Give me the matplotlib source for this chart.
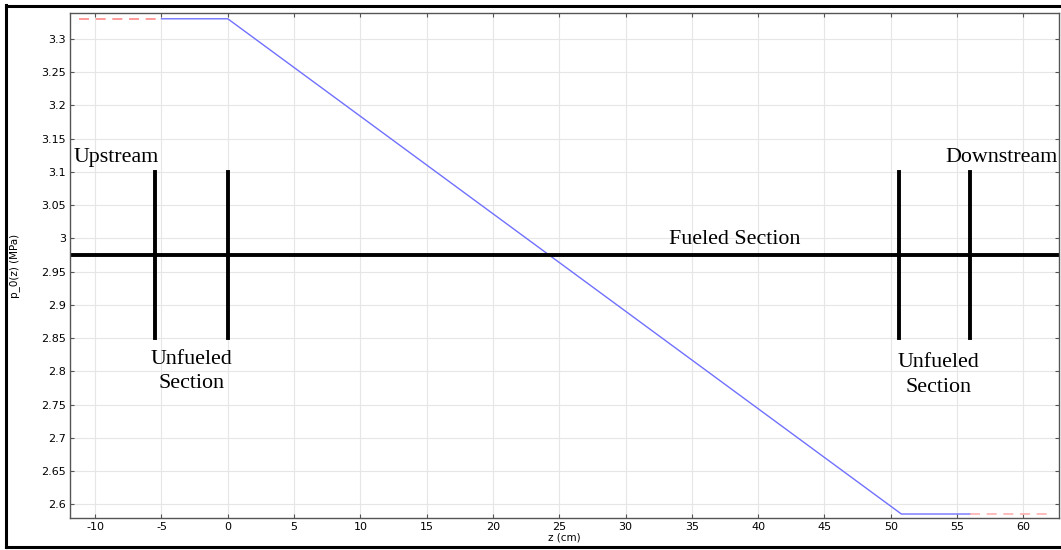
import matplotlib.pyplot as plt
from matplotlib.lines import Line2D

plt.rcParams['axes.unicode_minus'] = False

# pressure profile p_0(z)
z_up = [-11.2, -5.0]
p_up = [3.330, 3.330]
z_main = [-5.0, 0.0, 50.8, 56.0]
p_main = [3.330, 3.330, 2.5855, 2.5855]
z_down = [56.0, 62.0]
p_down = [2.5855, 2.5855]

# section markers drawn on top
marker_x = [-5.5, 0.0, 50.6, 56.0]
marker_lo = 2.85
marker_hi = 3.10
axis_level = 2.975

xticks = list(range(-10, 61, 5))
yticks = [2.6, 2.65, 2.7, 2.75, 2.8, 2.85, 2.9, 2.95, 3.0, 3.05, 3.1, 3.15, 3.2, 3.25, 3.3]
ytick_labels = ["2.6", "2.65", "2.7", "2.75", "2.8", "2.85", "2.9", "2.95", "3", "3.05",
                "3.1", "3.15", "3.2", "3.25", "3.3"]

fig = plt.figure(figsize=(10.61, 5.5), dpi=100)
ax = fig.add_axes([70 / 1061, 32 / 550, (1058.5 - 70) / 1061, (518 - 13) / 550])

ax.plot(z_up, p_up, color="#ff8a8a", lw=1.2, dashes=(6, 4))
ax.plot(z_main, p_main, color="#7070ff", lw=1.0)
ax.plot(z_down, p_down, color="#ffb0b0", lw=1.2, dashes=(6, 4))

ax.set_xlim(-11.9, 62.65)
ax.set_ylim(2.5795, 3.3387)
ax.set_xticks(xticks)
ax.set_yticks(yticks)
ax.set_yticklabels(ytick_labels)
ax.grid(True, color="#e6e6e6", lw=0.8)
ax.set_axisbelow(True)
ax.tick_params(direction="in", top=True, right=True, labelsize=8, length=3,
               color="#555555", pad=3)
for s in ax.spines.values():
    s.set_color("#555555")
    s.set_linewidth(1.0)
ax.set_xlabel("z (cm)", fontsize=7.5, labelpad=0)
ax.set_ylabel("p_0(z) (MPa)", fontsize=7.5, labelpad=15)

# schematic overlay
ax.axhline(axis_level, color="black", lw=2.8)
for xm in marker_x:
    ax.plot([xm, xm], [marker_lo, marker_hi], color="black", lw=2.8)

serif = dict(family="Liberation Serif", fontsize=15.8, color="black")
ax.text(-11.6, 3.122, "Upstream", ha="left", va="center", **serif)
ax.text(-2.75, 2.818, "Unfueled", ha="center", va="center", **serif)
ax.text(-2.75, 2.781, "Section", ha="center", va="center", **serif)
ax.text(38.2, 2.998, "Fueled Section", ha="center", va="center", **serif)
ax.text(53.6, 2.814, "Unfueled", ha="center", va="center", **serif)
ax.text(53.6, 2.776, "Section", ha="center", va="center", **serif)
ax.text(62.6, 3.122, "Downstream", ha="right", va="center", **serif)

# outer frame of the screenshot
for xs, ys in [([6, 6], [5, 547]), ([6, 1061], [6, 6]), ([6, 1061], [547, 547])]:
    fig.add_artist(Line2D([x / 1061 for x in xs], [1 - y / 550 for y in ys],
                          color="black", lw=2.2, transform=fig.transFigure))

fig.savefig("out.png", dpi=100)
